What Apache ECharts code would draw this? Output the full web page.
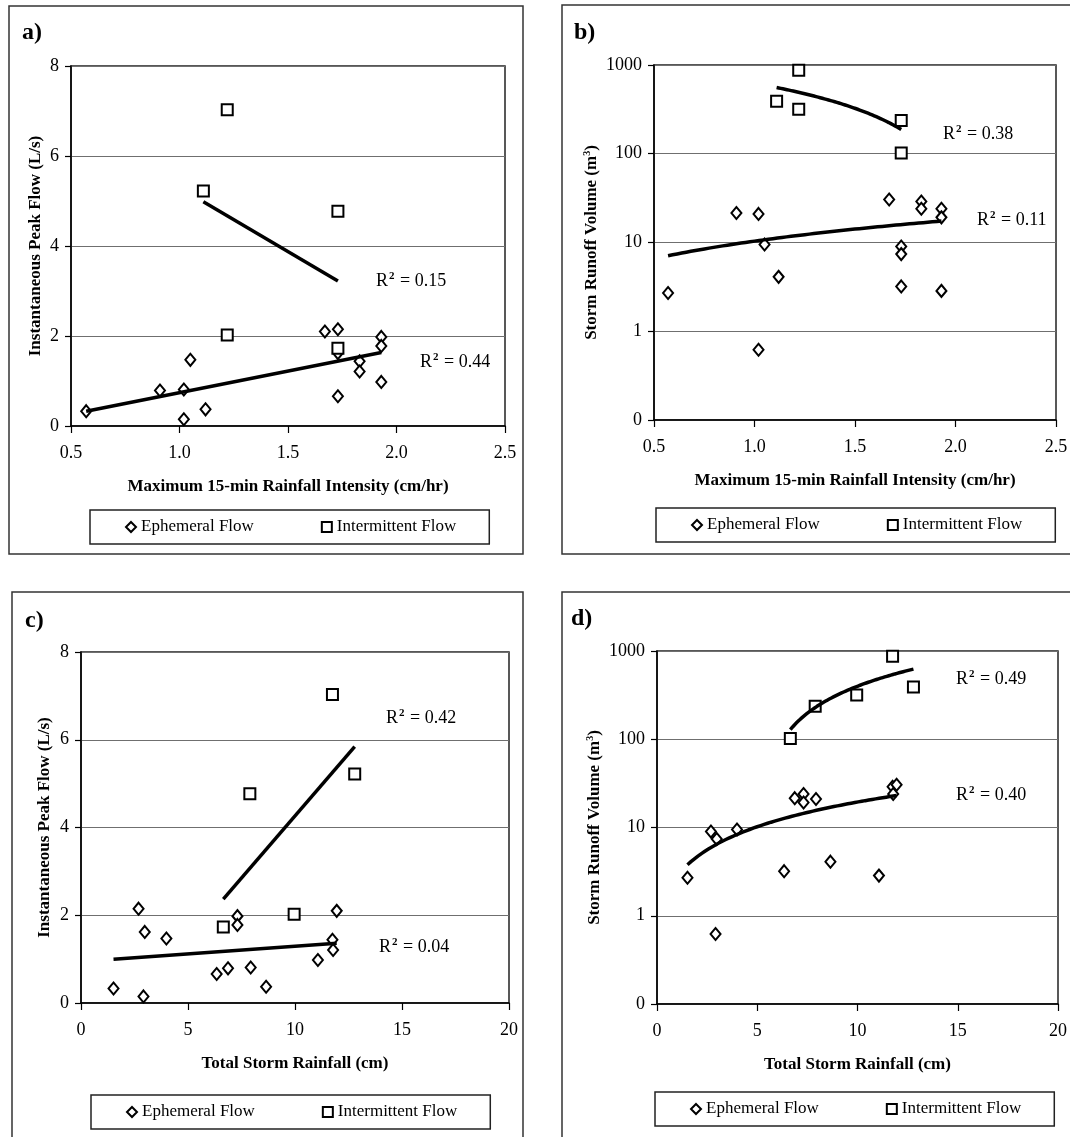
<!DOCTYPE html>
<html>
<head>
<meta charset="utf-8">
<script src="https://cdn.jsdelivr.net/npm/echarts@6/dist/echarts.min.js"></script>
<style>
  html, body { margin: 0; padding: 0; background: #fff; }
  #chart { width: 1070px; height: 1137px; }
</style>
</head>
<body>
<div id="chart"></div>
<script>
// ---- Storm events, ephemeral-flow channel ----
const ephIntensity = [0.57, 1.73, 1.02, 1.73, 1.05, 1.73, 0.91, 1.93, 1.93, 1.02, 1.12, 1.93, 1.83, 1.83, 1.67]; // cm/hr
const ephRainfall  = [1.52, 2.69, 2.92, 2.98, 3.99, 6.34, 6.87, 7.31, 7.31, 7.93, 8.65, 11.07, 11.75, 11.78, 11.95]; // cm
const ephPeakFlow  = [0.33, 2.15, 0.15, 1.62, 1.47, 0.66, 0.79, 1.98, 1.78, 0.81, 0.37, 0.98, 1.44, 1.21, 2.10]; // L/s
const ephVolume    = [2.7, 9.0, 0.62, 7.4, 9.5, 3.2, 21.5, 24, 19.2, 21, 4.1, 2.85, 29, 24, 30.5]; // m3

// ---- Storm events, intermittent-flow channel ----
const intIntensity = [1.22, 1.11, 1.73, 1.22, 1.73];
const intRainfall  = [11.75, 12.79, 7.89, 9.96, 6.65];
const intPeakFlow  = [7.03, 5.22, 4.77, 2.02, 1.73];
const intVolume    = [870, 390, 237, 318, 102];

// ---- Axis ranges and tick labels ----
const intensityAxis = [0.5, 2.5, 0.5];   // min, max, interval
const rainfallAxis  = [0, 20, 5];
const peakAxis      = [0, 8, 2];
const volumeTicks   = [0.1, 1, 10, 100, 1000];

// ---- Coefficients of determination printed next to each trend line ----
const panelLetters   = ['a)', 'b)', 'c)', 'd)'];
const r2Ephemeral    = ['0.44', '0.11', '0.04', '0.40'];
const r2Intermittent = ['0.15', '0.38', '0.42', '0.49'];
const seriesNames    = ['Ephemeral Flow', 'Intermittent Flow'];

const FONT = 'Liberation Serif';

// Least-squares straight line through the points
function linearFit(xs, ys) {
  const n = xs.length;
  const mx = xs.reduce((s, v) => s + v, 0) / n;
  const my = ys.reduce((s, v) => s + v, 0) / n;
  let sxy = 0, sxx = 0;
  for (let i = 0; i < n; i++) {
    sxy += (xs[i] - mx) * (ys[i] - my);
    sxx += (xs[i] - mx) * (xs[i] - mx);
  }
  const slope = sxy / sxx;
  return { slope, intercept: my - slope * mx };
}

// The fitted line between the smallest and largest x; sampled densely so it
// shows its true shape on a logarithmic y axis.
function trendLine(xs, ys, steps) {
  const f = linearFit(xs, ys);
  const x0 = Math.min(...xs), x1 = Math.max(...xs);
  const out = [];
  for (let i = 0; i <= steps; i++) {
    const x = x0 + (x1 - x0) * i / steps;
    out.push([x, f.intercept + f.slope * x]);
  }
  return out;
}

const pairs = (xs, ys) => xs.map((x, i) => [x, ys[i]]);

// Panel layout: plot rectangle, frame, label spots
const panels = [
  { xe: ephIntensity, ye: ephPeakFlow, xi: intIntensity, yi: intPeakFlow, xAxisDef: intensityAxis, log: false,
    xName: 'Maximum 15-min Rainfall Intensity (cm/hr)',
    grid: { left: 71, top: 66, width: 434, height: 360 },
    frame: [9, 6, 514, 548], letter: [22, 33],
    legend: { left: 90, top: 510 },
    r2e: [420, 362], r2i: [376, 281], yGap: 27 },
  { xe: ephIntensity, ye: ephVolume, xi: intIntensity, yi: intVolume, xAxisDef: intensityAxis, log: true,
    xName: 'Maximum 15-min Rainfall Intensity (cm/hr)',
    grid: { left: 654, top: 65, width: 402, height: 355 },
    frame: [562, 5, 530, 549], letter: [574, 33],
    legend: { left: 656, top: 508 },
    r2e: [977, 220], r2i: [943, 134], yGap: 52 },
  { xe: ephRainfall, ye: ephPeakFlow, xi: intRainfall, yi: intPeakFlow, xAxisDef: rainfallAxis, log: false,
    xName: 'Total Storm Rainfall (cm)',
    grid: { left: 81, top: 652, width: 428, height: 351 },
    frame: [12, 592, 511, 560], letter: [25, 621],
    legend: { left: 91, top: 1095 },
    r2e: [379, 947], r2i: [386, 718], yGap: 28 },
  { xe: ephRainfall, ye: ephVolume, xi: intRainfall, yi: intVolume, xAxisDef: rainfallAxis, log: true,
    xName: 'Total Storm Rainfall (cm)',
    grid: { left: 657, top: 651, width: 401, height: 353 },
    frame: [562, 592, 530, 560], letter: [571, 619],
    legend: { left: 655, top: 1092 },
    r2e: [956, 795], r2i: [956, 679], yGap: 52 }
];

const grids = [], xAxes = [], yAxes = [], series = [], legends = [], graphics = [];

const supRich = {
  t: { fontFamily: FONT, fontSize: 18, color: '#000', lineHeight: 20 },
  s: { fontFamily: FONT, fontSize: 11, fontWeight: 'bold', color: '#000', verticalAlign: 'top', lineHeight: 20, padding: [0, 1, 0, 1] }
};

panels.forEach((p, i) => {
  grids.push(Object.assign({ show: true, borderColor: '#222', borderWidth: 1.5, backgroundColor: 'transparent',
    containLabel: false, outerBoundsMode: 'none' }, p.grid));

  xAxes.push({
    gridIndex: i, type: 'value',
    min: p.xAxisDef[0], max: p.xAxisDef[1], interval: p.xAxisDef[2],
    name: p.xName, nameLocation: 'middle', nameGap: 52,
    nameTextStyle: { fontFamily: FONT, fontWeight: 'bold', fontSize: 17, color: '#000' },
    axisLine: { show: true, onZero: false, lineStyle: { color: '#000', width: 1.5 } },
    axisTick: { show: true, inside: false, length: 7, lineStyle: { color: '#000', width: 1.2 } },
    splitLine: { show: false },
    axisLabel: { fontFamily: FONT, fontSize: 18, color: '#000', margin: 18,
      formatter: v => p.xAxisDef[2] < 1 ? v.toFixed(1) : String(v) }
  });

  const yBase = {
    gridIndex: i, nameLocation: 'middle', nameGap: p.yGap,
    axisLine: { show: true, onZero: false, lineStyle: { color: '#000', width: 1.5 } },
    axisTick: { show: true, inside: false, length: 6, lineStyle: { color: '#000', width: 1.2 } },
    splitLine: { show: true, lineStyle: { color: '#6f6f6f', width: 1 } },
    axisLabel: { fontFamily: FONT, fontSize: 18, color: '#000', margin: 12 }
  };
  if (p.log) {
    yAxes.push(Object.assign(yBase, {
      type: 'log', logBase: 10,
      min: volumeTicks[0], max: volumeTicks[volumeTicks.length - 1],
      name: '{t|Storm Runoff Volume (m}{s|3}{t|)}',
      nameTextStyle: { rich: {
        t: { fontFamily: FONT, fontWeight: 'bold', fontSize: 17, color: '#000', lineHeight: 20 },
        s: { fontFamily: FONT, fontWeight: 'bold', fontSize: 10, color: '#000', verticalAlign: 'top', lineHeight: 20 }
      } },
      axisLabel: Object.assign(yBase.axisLabel, { formatter: v => (v < 0.5 ? '0' : String(Math.round(v))) })
    }));
  } else {
    yAxes.push(Object.assign(yBase, {
      type: 'value', min: peakAxis[0], max: peakAxis[1], interval: peakAxis[2],
      name: 'Instantaneous Peak Flow (L/s)',
      nameTextStyle: { fontFamily: FONT, fontWeight: 'bold', fontSize: 17, color: '#000' }
    }));
  }

  const markerStyle = { color: '#fff', borderColor: '#000', borderWidth: 2, opacity: 1 };
  series.push({
    name: seriesNames[0], type: 'scatter', xAxisIndex: i, yAxisIndex: i,
    symbol: 'diamond', symbolSize: [10, 12], itemStyle: markerStyle, z: 3,
    data: pairs(p.xe, p.ye)
  });
  series.push({
    name: seriesNames[1], type: 'scatter', xAxisIndex: i, yAxisIndex: i,
    symbol: 'rect', symbolSize: 11, itemStyle: markerStyle, z: 3,
    data: pairs(p.xi, p.yi)
  });
  const steps = p.log ? 60 : 1;
  series.push({
    name: 'trend-e' + i, type: 'line', xAxisIndex: i, yAxisIndex: i, silent: true,
    symbol: 'none', z: 4, lineStyle: { color: '#000', width: 3.5 },
    data: trendLine(p.xe, p.ye, steps)
  });
  series.push({
    name: 'trend-i' + i, type: 'line', xAxisIndex: i, yAxisIndex: i, silent: true,
    symbol: 'none', z: 4, lineStyle: { color: '#000', width: 3.5 },
    data: trendLine(p.xi, p.yi, steps)
  });

  legends.push({
    left: p.legend.left, top: p.legend.top, orient: 'horizontal',
    padding: [8, 33, 8, 35], itemGap: 67, itemWidth: 10, itemHeight: 10,
    borderColor: '#222', borderWidth: 1.5, selectedMode: false,
    textStyle: { fontFamily: FONT, fontSize: 17, color: '#000', lineHeight: 18 },
    itemStyle: { color: '#fff', borderColor: '#000', borderWidth: 2 },
    data: [{ name: seriesNames[0], icon: 'diamond' }, { name: seriesNames[1], icon: 'rect' }]
  });

  // frame around the panel
  graphics.push({
    type: 'rect', z: 0, silent: true,
    shape: { x: p.frame[0], y: p.frame[1], width: p.frame[2], height: p.frame[3] },
    style: { fill: 'none', stroke: '#333', lineWidth: 1.5 }
  });
  // panel letter
  graphics.push({
    type: 'text', z: 10, silent: true, x: p.letter[0], y: p.letter[1],
    style: { text: panelLetters[i], font: 'bold 24px "' + FONT + '"', fill: '#000',
      textAlign: 'left', textVerticalAlign: 'middle' }
  });
  // R² labels
  [[p.r2i, r2Intermittent[i]], [p.r2e, r2Ephemeral[i]]].forEach(([pos, val]) => {
    graphics.push({
      type: 'text', z: 10, silent: true, x: pos[0], y: pos[1],
      style: { text: '{t|R}{s|2}{t| = ' + val + '}', rich: supRich, fill: '#000',
        textAlign: 'left', textVerticalAlign: 'middle' }
    });
  });
});

const chart = echarts.init(document.getElementById('chart'), null, { renderer: 'canvas' });
chart.setOption({
  animation: false,
  backgroundColor: '#fff',
  textStyle: { fontFamily: FONT, color: '#000' },
  grid: grids,
  xAxis: xAxes,
  yAxis: yAxes,
  legend: legends,
  series: series,
  graphic: { elements: graphics }
});
</script>
</body>
</html>
